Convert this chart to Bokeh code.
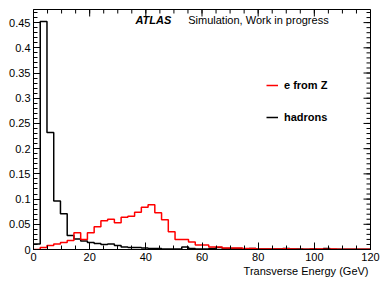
import numpy as np
from bokeh.plotting import figure
from bokeh.models import Range1d, FixedTicker, LinearAxis, Label, Legend, LegendItem, Title
from bokeh.embed import file_html
from bokeh.resources import INLINE

# ---- data ----
x_min, x_max, n_bins = 0.0, 120.0, 50
bin_edges = list(np.linspace(x_min, x_max, n_bins + 1))

e_from_Z = [
    0.000, 0.004, 0.008, 0.011, 0.014, 0.018, 0.033, 0.020, 0.033, 0.045,
    0.057, 0.060, 0.053, 0.064, 0.066, 0.074, 0.084, 0.089, 0.073, 0.059,
    0.035, 0.020, 0.020, 0.015, 0.009, 0.009, 0.005, 0.005, 0.003, 0.003,
    0.003, 0.002, 0.002, 0.001, 0.001, 0.001, 0.001, 0.0015, 0.001, 0.0005,
    0.0005, 0.001, 0.001, 0.0005, 0.001, 0.0005, 0.0005, 0.0005, 0.0005, 0.0005,
]
hadrons = [
    0.011, 0.452, 0.232, 0.096, 0.071, 0.028, 0.021, 0.017, 0.014, 0.012,
    0.010, 0.011, 0.008, 0.005, 0.004, 0.004, 0.003, 0.002, 0.002, 0.001,
    0.001, 0.001, 0.005, 0.002, 0.001, 0.001, 0.002, 0.004, 0.002, 0.002,
    0.002, 0.001, 0.002, 0.001, 0.001, 0.001, 0.001, 0.002, 0.001, 0.001,
    0.0005, 0.001, 0.0005, 0.002, 0.0005, 0.0005, 0.0005, 0.0005, 0.0005, 0.0005,
]
x_ticks = [0, 20, 40, 60, 80, 100, 120]
x_minor_step = 5
y_ticks = [0, 0.05, 0.1, 0.15, 0.2, 0.25, 0.3, 0.35, 0.4, 0.45]
y_tick_labels = ["0", "0.05", "0.1", "0.15", "0.2", "0.25", "0.3", "0.35", "0.4", "0.45"]
y_minor_step = 0.01
y_max = 0.476
x_title = "Transverse Energy (GeV)"
series_names = ["e from Z", "hadrons"]

FONT = "Liberation Sans"

p = figure(width=380, height=282, output_backend="svg", toolbar_location=None,
           x_range=Range1d(x_min, x_max), y_range=Range1d(0, y_max),
           min_border_left=33, min_border_right=10, min_border_top=9, min_border_bottom=33,
           x_axis_type=None, y_axis_type=None)
p.grid.visible = False
p.outline_line_color = "black"
p.background_fill_color = "white"
p.border_fill_color = "white"

x_minor = [i * x_minor_step for i in range(int(x_max / x_minor_step) + 1)]
y_minor = [round(i * y_minor_step, 4) for i in range(int(y_max / y_minor_step) + 1)]
xt = FixedTicker(ticks=x_ticks, minor_ticks=x_minor)
yt = FixedTicker(ticks=y_ticks, minor_ticks=y_minor)


def style(ax):
    ax.major_tick_in = 7
    ax.major_tick_out = 0
    ax.minor_tick_in = 4
    ax.minor_tick_out = 0
    ax.axis_line_color = "black"
    ax.major_tick_line_color = "black"
    ax.minor_tick_line_color = "black"
    ax.major_label_text_font = FONT
    ax.major_label_text_font_size = "11px"
    ax.major_label_text_color = "black"
    ax.major_label_standoff = 3


xb = LinearAxis(ticker=xt)
style(xb)
p.add_layout(xb, "below")

yl = LinearAxis(ticker=yt, major_label_overrides=dict(zip(y_ticks, y_tick_labels)))
style(yl)
p.add_layout(yl, "left")

p.add_layout(Title(text=x_title, align="right", text_font=FONT, text_font_size="11px",
                   text_font_style="normal", text_color="black", standoff=-2, offset=2), "below")

# mirrored ticks on top and right edges
p.ray(x=x_ticks, y=[y_max] * len(x_ticks), length=7, length_units="screen", angle=-np.pi / 2,
      line_color="black", line_width=1)
p.ray(x=x_minor, y=[y_max] * len(x_minor), length=4, length_units="screen", angle=-np.pi / 2,
      line_color="black", line_width=1)
p.ray(x=[x_max] * len(y_ticks), y=y_ticks, length=7, length_units="screen", angle=np.pi,
      line_color="black", line_width=1)
p.ray(x=[x_max] * len(y_minor), y=y_minor, length=4, length_units="screen", angle=np.pi,
      line_color="black", line_width=1)

r_h = p.step(x=bin_edges, y=hadrons + [hadrons[-1]], mode="after", line_color="black", line_width=1.5)
r_e = p.step(x=bin_edges, y=e_from_Z + [e_from_Z[-1]], mode="after", line_color="#ff0000", line_width=1.5)

legend = Legend(items=[LegendItem(label=series_names[0], renderers=[r_e]),
                       LegendItem(label=series_names[1], renderers=[r_h])],
                location=(233, 126), glyph_width=12, glyph_height=12, label_height=12,
                spacing=20, padding=0, margin=0, border_line_color=None,
                background_fill_alpha=0, label_text_font=FONT, label_text_font_style="bold",
                label_text_font_size="11px", label_standoff=6, label_text_color="black")
p.add_layout(legend)

p.add_layout(Label(x=36.3, y=0.4544, text="ATLAS", text_font=FONT, text_font_style="bold italic",
                   text_font_size="11px", text_baseline="middle", text_color="black"))
p.add_layout(Label(x=55.1, y=0.4544, text="Simulation, Work in progress", text_font=FONT,
                   text_font_size="11px", text_baseline="middle", text_color="black"))

open("out.html", "w").write(file_html(p, INLINE))
